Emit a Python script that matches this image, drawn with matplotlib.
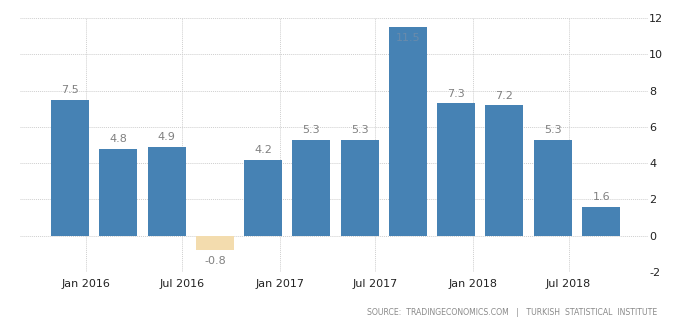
import pandas as pd
import matplotlib
matplotlib.use("Agg")
import matplotlib.pyplot as plt

plt.rcParams["axes.unicode_minus"] = False

# -----------------------------
# Data: quarterly GDP growth, %
# -----------------------------
quarters = ["2015-12-01", "2016-03-01", "2016-06-01", "2016-09-01",
            "2016-12-01", "2017-03-01", "2017-06-01", "2017-09-01",
            "2017-12-01", "2018-03-01", "2018-06-01", "2018-09-01"]
growth = [7.5, 4.8, 4.9, -0.8, 4.2, 5.3, 5.3, 11.5, 7.3, 7.2, 5.3, 1.6]
tick_dates = ["2016-01-01", "2016-07-01", "2017-01-01",
              "2017-07-01", "2018-01-01", "2018-07-01"]
tick_labels = ["Jan 2016", "Jul 2016", "Jan 2017", "Jul 2017", "Jan 2018", "Jul 2018"]
y_ticks = [-2, 0, 2, 4, 6, 8, 10, 12]

dates = pd.to_datetime(quarters)
colors = ["#4682b4" if v >= 0 else "#f3dcae" for v in growth]

# -----------------------------
# Figure
# -----------------------------
fig = plt.figure(figsize=(7, 3.26), dpi=100)
ax = fig.add_axes([0.0286, 0.1656, 0.897, 0.7792])

ax.bar(dates, growth, width=72, color=colors, zorder=3)

ax.set_xlim(pd.Timestamp("2015-08-29"), pd.Timestamp("2018-11-28"))
ax.set_ylim(-2, 12)

ax.set_xticks(pd.to_datetime(tick_dates))
ax.set_xticklabels(tick_labels, fontsize=8, color="#222222")
ax.set_yticks(y_ticks)
ax.yaxis.tick_right()
ax.tick_params(axis="y", labelsize=8, colors="#222222", length=0, pad=1)
ax.tick_params(axis="x", length=0, pad=5)

ax.grid(True, color="#cfcfcf", linestyle=(0, (1, 1)), linewidth=0.7, zorder=0)
for s in ax.spines.values():
    s.set_visible(False)

# value labels
for d, v in zip(dates, growth):
    if v > 11:
        ax.text(d, v - 0.3, f"{v}", ha="center", va="top",
                fontsize=8, color="#6a8bab", zorder=4)
    elif v >= 0:
        ax.text(d, v + 0.25, f"{v}", ha="center", va="bottom",
                fontsize=8, color="#808080", zorder=4)
    else:
        ax.text(d, v - 0.3, f"{v}", ha="center", va="top",
                fontsize=8, color="#808080", zorder=4)

fig.text(0.9386, 0.042, "SOURCE:  TRADINGECONOMICS.COM   |   TURKISH  STATISTICAL  INSTITUTE",
         ha="right", va="center", fontsize=5.6, color="#8a8a8a")

fig.savefig("out.png", dpi=100)
